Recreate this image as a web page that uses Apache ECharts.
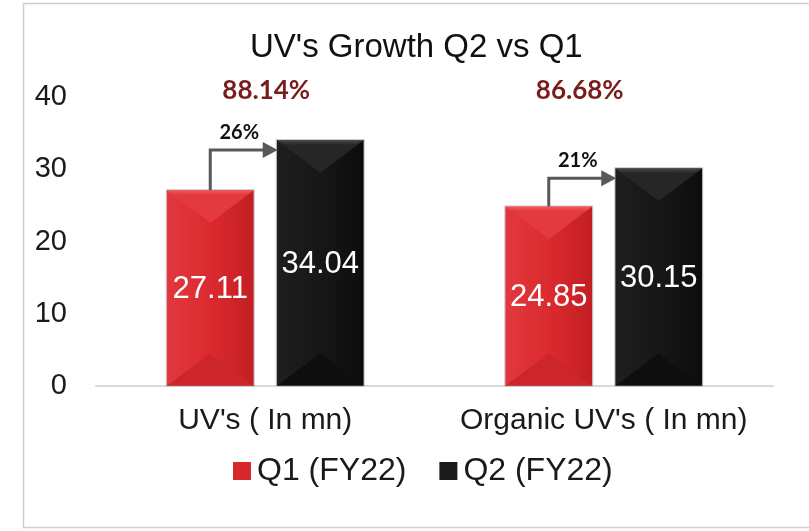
<!DOCTYPE html>
<html>
<head>
<meta charset="utf-8">
<script src="https://cdn.jsdelivr.net/npm/echarts@6/dist/echarts.min.js"></script>
<style>
  html, body { margin: 0; padding: 0; background: #fff; }
  #main { width: 809px; height: 531px; }
</style>
</head>
<body>
<div id="main"></div>
<script>
const categories = ["UV's ( In mn)", "Organic UV's ( In mn)"];
const seriesNames = ['Q1 (FY22)', 'Q2 (FY22)'];
const q1 = [27.11, 24.85];
const q2 = [34.04, 30.15];
const growth = ['26%', '21%'];
const share = ['88.14%', '86.68%'];
const yTicks = [0, 10, 20, 30, 40];

const BAR_HALF = 43.5;
const BAR_OFFSET = 55;

const redTheme = {
  side: ['#e2383d', '#d9292e', '#c21e23'],
  top: '#e23a3f',
  topEdge: '#f05a5e',
  bottom: '#cc252a',
  legend: '#d9282d'
};
const blackTheme = {
  side: ['#1e1e1e', '#161616', '#0c0c0c'],
  top: '#262626',
  topEdge: '#4a4a4a',
  bottom: '#0e0e0e',
  legend: '#1a1a1a'
};

function sideGradient(c) {
  return new echarts.graphic.LinearGradient(0, 0, 1, 0, [
    { offset: 0, color: c[0] },
    { offset: 0.55, color: c[1] },
    { offset: 1, color: c[2] }
  ]);
}

function topGradient(theme) {
  return new echarts.graphic.LinearGradient(0, 0, 0, 1, [
    { offset: 0, color: theme.topEdge },
    { offset: 0.15, color: theme.top },
    { offset: 1, color: theme.top }
  ]);
}

function barRenderer(offset, theme) {
  return function (params, api) {
    const top = api.coord([api.value(0), api.value(1)]);
    const base = api.coord([api.value(0), 0]);
    const cx = top[0] + offset;
    const x0 = cx - BAR_HALF, x1 = cx + BAR_HALF;
    const y0 = top[1], y1 = base[1];
    const d = Math.min(BAR_HALF * 0.75, (y1 - y0) / 2);
    return {
      type: 'group',
      children: [
        { type: 'rect', shape: { x: x0, y: y0, width: x1 - x0, height: y1 - y0 },
          style: { fill: sideGradient(theme.side) } },
        { type: 'polygon', shape: { points: [[x0, y0], [x1, y0], [cx, y0 + d]] },
          style: { fill: topGradient(theme) } },
        { type: 'polygon', shape: { points: [[x0, y1], [x1, y1], [cx, y1 - d]] },
          style: { fill: theme.bottom } },
        { type: 'rect', shape: { x: x0 - 0.5, y: y0 - 0.5, width: x1 - x0 + 1, height: y1 - y0 + 0.5 },
          style: { fill: null, stroke: 'rgba(160,160,160,0.55)', lineWidth: 1 } },
        { type: 'text',
          style: { text: api.value(1).toFixed(2), x: cx, y: (y0 + y1) / 2 + 1,
            align: 'center', verticalAlign: 'middle', fill: '#ffffff',
            font: '31px "Liberation Sans", Arial, sans-serif' } }
      ]
    };
  };
}

const shareShift = [1, -24];

function annotationRenderer(params, api) {
  const i = api.value(0);
  const redTop = api.coord([i, q1[i]]);
  const blackTop = api.coord([i, q2[i]]);
  const head = api.coord([i, yTicks[yTicks.length - 1]]);
  const rx = redTop[0] - BAR_OFFSET;
  const bx = blackTop[0] + BAR_OFFSET - BAR_HALF + 1;
  const ly = blackTop[1] + 10;
  return {
    type: 'group',
    children: [
      { type: 'polyline', shape: { points: [[rx, redTop[1]], [rx, ly], [bx - 12, ly]] },
        style: { stroke: '#595959', lineWidth: 3, fill: null } },
      { type: 'polygon', shape: { points: [[bx - 15, ly - 8], [bx, ly], [bx - 15, ly + 8]] },
        style: { fill: '#595959' } },
      { type: 'text',
        style: { text: growth[i], x: head[0] - 26, y: ly - 18, align: 'center', verticalAlign: 'middle',
          fill: '#111111', font: 'bold 20px Lato, sans-serif' } },
      { type: 'text',
        style: { text: share[i], x: head[0] + shareShift[i], y: head[1] - 6, align: 'center', verticalAlign: 'middle',
          fill: '#7a1b1c', font: 'bold 26px Lato, sans-serif' } }
    ]
  };
}

const chart = echarts.init(document.getElementById('main'));

chart.setOption({
  animation: false,
  backgroundColor: '#ffffff',
  title: {
    text: "UV's Growth Q2 vs Q1",
    left: 245,
    top: 26,
    textStyle: {
      fontFamily: '"Liberation Sans", Arial, sans-serif',
      fontWeight: 'normal',
      fontSize: 33,
      color: '#111111'
    }
  },
  graphic: [
    { type: 'rect', shape: { x: 23.5, y: 3.5, width: 900, height: 524 },
      style: { fill: null, stroke: '#cfcfc7', lineWidth: 1.5 }, silent: true }
  ],
  legend: {
    left: 228,
    top: 450,
    itemWidth: 18,
    itemHeight: 18,
    itemGap: 33,
    icon: 'rect',
    textStyle: { fontFamily: '"Liberation Sans", Arial, sans-serif', fontSize: 32, color: '#1a1a1a', padding: [0, 0, 0, 1] },
    data: [
      { name: seriesNames[0], itemStyle: { color: redTheme.legend } },
      { name: seriesNames[1], itemStyle: { color: blackTheme.legend } }
    ]
  },
  grid: { left: 96, right: 36, top: 97, bottom: 145 },
  xAxis: {
    type: 'category',
    data: categories,
    axisTick: { show: false },
    axisLine: { lineStyle: { color: '#d9d9d9', width: 2 } },
    axisLabel: { interval: 0, fontFamily: '"Liberation Sans", Arial, sans-serif', fontSize: 30, color: '#1a1a1a', margin: 20 }
  },
  yAxis: {
    type: 'value',
    min: yTicks[0],
    max: yTicks[yTicks.length - 1],
    interval: 10,
    splitLine: { show: false },
    axisLine: { show: false },
    axisTick: { show: false },
    axisLabel: { fontFamily: '"Liberation Sans", Arial, sans-serif', fontSize: 29, color: '#1a1a1a', margin: 29 }
  },
  series: [
    {
      name: seriesNames[0],
      type: 'custom',
      renderItem: barRenderer(-BAR_OFFSET, redTheme),
      itemStyle: { color: redTheme.legend },
      encode: { x: 0, y: 1 },
      data: q1.map((v, i) => [i, v])
    },
    {
      name: seriesNames[1],
      type: 'custom',
      renderItem: barRenderer(BAR_OFFSET, blackTheme),
      itemStyle: { color: blackTheme.legend },
      encode: { x: 0, y: 1 },
      data: q2.map((v, i) => [i, v])
    },
    {
      name: 'growth',
      type: 'custom',
      renderItem: annotationRenderer,
      silent: true,
      encode: { x: 0, y: 1 },
      data: q1.map((v, i) => [i, v])
    }
  ]
});
</script>
</body>
</html>
